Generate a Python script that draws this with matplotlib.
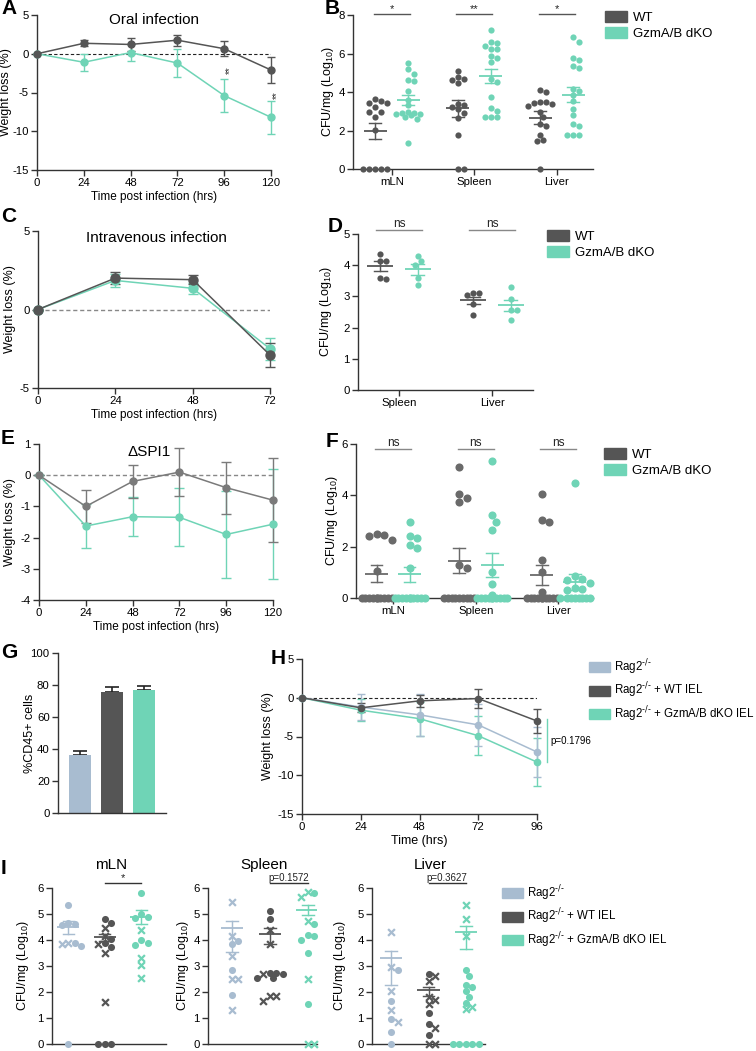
import matplotlib
matplotlib.use('Agg')
import matplotlib.pyplot as plt
from matplotlib.patches import Patch
import numpy as np

plt.rcParams['font.family'] = ['Liberation Sans', 'DejaVu Sans']
plt.rcParams['mathtext.default'] = 'regular'
plt.rcParams['axes.unicode_minus'] = False

DARK = '#555555'
TEAL = '#6fd4b6'
LIGHT = '#a8bcd0'
EGRAY = '#7a7a7a'
FGRAY = '#6a6a6a'

##############################################################################
# data

# A - oral infection weight loss
A_time = [0, 24, 48, 72, 96, 120]
A_wt = [0, 1.35, 1.2, 1.75, 0.65, -2.1]
A_wt_err = [0, 0.4, 0.8, 0.7, 1.0, 1.7]
A_ko = [0, -1.1, 0.15, -1.2, -5.4, -8.2]
A_ko_err = [0, 1.1, 1.1, 1.85, 2.1, 2.15]

organs3 = ['mLN', 'Spleen', 'Liver']
organs2 = ['Spleen', 'Liver']

# B - CFU oral
B_wt = [[3.62, 3.53, 3.45, 3.45, 3.2, 2.98, 2.95, 2.72, 2.05, 0, 0, 0, 0, 0],
        [5.1, 4.8, 4.7, 4.6, 4.45, 3.4, 3.33, 3.2, 3.1, 2.9, 2.67, 1.77, 0, 0],
        [4.1, 4.0, 3.5, 3.5, 3.45, 3.4, 3.25, 2.98, 2.7, 2.35, 2.25, 1.78, 1.5, 1.43, 0]]
B_ko = [[5.5, 5.2, 4.95, 4.6, 4.55, 4.03, 3.6, 3.3, 2.95, 2.9, 2.9, 2.85, 2.85, 2.8, 2.7, 2.62, 1.35],
        [7.2, 6.6, 6.55, 6.4, 6.25, 6.25, 5.85, 5.75, 5.55, 4.7, 4.5, 3.75, 3.15, 3.0, 2.7, 2.7, 2.7],
        [6.85, 6.6, 5.75, 5.65, 5.35, 5.25, 4.15, 4.05, 3.85, 3.55, 3.1, 2.8, 2.35, 2.25, 1.75, 1.75, 1.75]]
B_wt_mean = [1.98, 3.15, 2.67]
B_wt_sem = [0.43, 0.43, 0.32]
B_ko_mean = [3.58, 4.85, 3.87]
B_ko_sem = [0.25, 0.37, 0.4]
B_sig = ['*', '**', '*']

# C - intravenous infection weight loss
C_time = [0, 24, 48, 72]
C_wt = [0, 2.0, 1.9, -2.9]
C_wt_err = [0, 0.4, 0.3, 0.75]
C_ko = [0, 1.85, 1.35, -2.5]
C_ko_err = [0, 0.4, 0.35, 0.7]

# D - CFU intravenous
D_wt = [[4.35, 4.15, 4.12, 3.6, 3.55], [3.1, 3.1, 3.05, 2.75, 2.4]]
D_ko = [[4.3, 4.12, 4.0, 3.6, 3.35], [3.3, 2.92, 2.55, 2.55, 2.25]]
D_wt_mean = [3.98, 2.87]
D_wt_sem = [0.17, 0.12]
D_ko_mean = [3.87, 2.72]
D_ko_sem = [0.18, 0.18]

# E - dSPI1 weight loss
E_time = [0, 24, 48, 72, 96, 120]
E_wt = [0, -1.0, -0.2, 0.1, -0.4, -0.8]
E_wt_err = [0, 0.53, 0.53, 0.78, 0.83, 1.35]
E_ko = [0, -1.63, -1.33, -1.35, -1.9, -1.57]
E_ko_err = [0, 0.7, 0.62, 0.93, 1.4, 1.77]

# F - CFU dSPI1
F_wt = [[2.5, 2.45, 2.4, 2.25, 1.05] + [0] * 10,
        [5.1, 4.05, 3.9, 3.75, 1.28, 1.17] + [0] * 9,
        [4.05, 3.03, 2.97, 1.48, 1.0, 0.25] + [0] * 10]
F_ko = [[2.97, 2.4, 2.35, 2.05, 1.95, 1.15] + [0] * 10,
        [5.34, 3.23, 2.97, 2.65, 1.02, 0.54, 0.12] + [0] * 10,
        [4.49, 0.85, 0.75, 0.7, 0.6, 0.4, 0.35, 0.3] + [0] * 8]
F_wt_mean = [0.95, 1.45, 0.9]
F_wt_sem = [0.32, 0.48, 0.38]
F_ko_mean = [0.92, 1.3, 0.63]
F_ko_sem = [0.3, 0.47, 0.3]

# G - %CD45+ cells
G_vals = [36.5, 75.5, 77.0]
G_err = [2.0, 3.0, 2.5]

# H - Rag2 weight loss
H_time = [0, 24, 48, 72, 96]
H_light = [0, -1.2, -2.2, -3.5, -7.0]
H_light_err = [0, 1.7, 2.7, 2.7, 3.2]
H_dark = [0, -1.3, -0.4, -0.1, -3.0]
H_dark_err = [0, 0.6, 0.8, 1.2, 1.6]
H_teal = [0, -1.6, -2.7, -4.9, -8.3]
H_teal_err = [0, 1.4, 2.2, 2.5, 3.1]

# I - CFU Rag2 (circles / crosses per group: Rag2, +WT IEL, +GzmA/B dKO IEL)
I_circ = {'mLN': [[5.35, 4.66, 4.6, 4.58, 3.88, 3.76, 0],
                  [4.8, 4.65, 4.05, 3.9, 3.75, 0, 0, 0],
                  [5.8, 5.0, 4.9, 4.85, 4.0, 3.9, 3.8]],
          'Spleen': [[3.95, 3.85, 2.85, 1.9],
                     [5.1, 4.8, 2.75, 2.75, 2.7, 2.55, 2.55],
                     [5.8, 4.6, 4.2, 4.15, 4.0, 3.5, 1.55]],
          'Liver': [[2.85, 1.65, 0.95, 0.48, 0],
                    [2.69, 1.2, 0.76, 0.36],
                    [2.86, 2.63, 2.28, 2.18, 2.03, 1.8, 1.59, 0, 0, 0, 0, 0]]}
I_cross = {'mLN': [[3.9, 3.85],
                   [4.45, 4.15, 3.85, 3.5, 1.6],
                   [4.4, 3.3, 3.05, 2.55]],
           'Spleen': [[5.45, 4.15, 3.4, 2.5, 2.5, 1.3],
                      [4.4, 3.85, 2.7, 1.85, 1.85, 1.65],
                      [5.85, 5.65, 4.75, 2.5, 0, 0]],
           'Liver': [[4.3, 2.95, 2.03, 1.3, 0.85],
                     [2.63, 2.41, 1.8, 1.71, 1.55, 0.61, 0, 0],
                     [5.36, 4.8, 4.16, 1.43, 1.33]]}
I_mean = {'mLN': [4.5, 4.1, 4.9], 'Spleen': [4.47, 4.25, 5.15], 'Liver': [3.3, 2.06, 4.29]}
I_err_lo = {'mLN': [0.27, 0.13, 0.3], 'Spleen': [0.92, 0.4, 0.2], 'Liver': [1.02, 0.22, 0.64]}
I_err_hi = {'mLN': [0.22, 0.13, 0.25], 'Spleen': [0.25, 0.2, 0.2], 'Liver': [0.28, 0.12, 0.25]}
I_sig = {'mLN': '*', 'Spleen': 'p=0.1572', 'Liver': 'p=0.3627'}

rag_labels = [r'Rag2$^{\text{-/-}}$', r'Rag2$^{\text{-/-}}$ + WT IEL', r'Rag2$^{\text{-/-}}$ + GzmA/B dKO IEL']
rag_colors = [LIGHT, DARK, TEAL]

##############################################################################

W, H = 756, 1051
fig = plt.figure(figsize=(W / 100, H / 100), dpi=100)


def box(l, t, r, b):
    return fig.add_axes([l / W, 1 - b / H, (r - l) / W, (b - t) / H])


def fpos(x, y):
    return x / W, 1 - y / H


def style(ax):
    for s in ['top', 'right']:
        ax.spines[s].set_visible(False)
    for s in ['left', 'bottom']:
        ax.spines[s].set_linewidth(1.0)
        ax.spines[s].set_color('#333333')
    ax.tick_params(length=4, width=1, labelsize=8.2, color='#333333', pad=2)


def ylabel_at(ax, text, xpx):
    # centre the (rotated) y label on a pixel column; its anchor is the right edge
    pos = ax.get_position()
    x0, w = pos.x0 * W, pos.width * W
    ax.set_ylabel(text, fontsize=9)
    ax.yaxis.set_label_coords((xpx + 6 - x0) / w, 0.5)


def swarm_x(ax, xc, vals, d_px, max_off):
    vals = np.asarray(vals, float)
    tr = ax.transData
    pts = tr.transform(np.column_stack([np.full(len(vals), xc), vals]))
    cx = pts[0, 0]
    ys = pts[:, 1]
    placed = []
    offs = np.zeros(len(vals))
    cands = [0.0]
    k = 1
    while k * d_px * 0.5 <= max_off:
        cands += [k * d_px * 0.5, -k * d_px * 0.5]
        k += 1
    for i in np.argsort(-ys):
        y = ys[i]
        best, best_d = None, -1
        for off in cands:
            dmin = min([np.hypot(off - px, y - py) for px, py in placed] + [1e9])
            if dmin >= d_px * 0.95:
                best = off
                break
            if dmin > best_d:
                best_d, best_alt = dmin, off
        if best is None:
            best = best_alt
        placed.append((best, y))
        offs[i] = best
    return tr.inverted().transform(np.column_stack([cx + offs, ys]))[:, 0]


def mean_sem(ax, x, m, lo, hi, half, cap, color, lw=1.3):
    ax.plot([x - half, x + half], [m, m], color=color, lw=lw, zorder=5, solid_capstyle='butt')
    ax.plot([x, x], [m - lo, m + hi], color=color, lw=lw * 0.8, zorder=5)
    ax.plot([x - cap, x + cap], [m + hi, m + hi], color=color, lw=lw * 0.8, zorder=5)
    ax.plot([x - cap, x + cap], [m - lo, m - lo], color=color, lw=lw * 0.8, zorder=5)


def sig_bar(ax, x1, x2, y, text, color='#333333', fs=8, lw=1.0):
    ax.plot([x1, x2], [y, y], color=color, lw=lw, clip_on=False)
    ax.text((x1 + x2) / 2, y, text, ha='center', va='bottom', fontsize=fs, color='#222222')


def letter(x, y, s):
    fig.text(*fpos(x, y), s, fontsize=15, fontweight='bold', ha='left', va='center')


def two_legend(x, y):
    fig.legend(handles=[Patch(color=DARK, label='WT'), Patch(color=TEAL, label='GzmA/B dKO')],
               loc='upper left', bbox_to_anchor=fpos(x, y), frameon=False, fontsize=9.5,
               handlelength=1.7, handleheight=0.9, handletextpad=0.45, labelspacing=0.2,
               borderpad=0, borderaxespad=0)


def three_legend(x, y):
    fig.legend(handles=[Patch(color=c, label=l) for c, l in zip(rag_colors, rag_labels)],
               loc='upper left', bbox_to_anchor=fpos(x, y), frameon=False, fontsize=8.3,
               handlelength=1.8, handleheight=0.95, handletextpad=0.35, labelspacing=0.35,
               borderpad=0, borderaxespad=0)


def weight_lines(ax, t, series, ms=5, capsize=3):
    for y, e, c in series:
        ax.errorbar(t, y, yerr=e, color=c, marker='o', ms=ms, lw=1.1, capsize=capsize,
                    elinewidth=1.0, capthick=1.0, clip_on=False, zorder=4)


def cfu_panel(ax, n, wt, ko, wt_m, wt_s, ko_m, ko_s, wt_color, d_px, ms):
    for i in range(n):
        xs = swarm_x(ax, i - 0.2, wt[i], d_px, 16)
        ax.scatter(xs, wt[i], s=ms, color=wt_color, lw=0, clip_on=False, zorder=3)
        xs = swarm_x(ax, i + 0.2, ko[i], d_px, 16)
        ax.scatter(xs, ko[i], s=ms, color=TEAL, lw=0, clip_on=False, zorder=3)
        mean_sem(ax, i - 0.2, wt_m[i], wt_s[i], wt_s[i], 0.14, 0.07, wt_color)
        mean_sem(ax, i + 0.2, ko_m[i], ko_s[i], ko_s[i], 0.14, 0.07, TEAL)


##############################################################################
# A
ax = box(37, 15, 271, 170)
style(ax)
ax.set_xlim(0, 120)
ax.set_ylim(-15, 5)
ax.set_xticks(A_time)
ax.set_yticks([5, 0, -5, -10, -15])
ax.axhline(0, color='#222222', lw=0.8, ls=(0, (3, 2)), zorder=1)
weight_lines(ax, A_time, [(A_ko, A_ko_err, TEAL), (A_wt, A_wt_err, DARK)])
ax.set_xlabel('Time post infection (hrs)', fontsize=8.5, labelpad=2)
ylabel_at(ax, 'Weight loss (%)', 6.5)
ax.text(0.5, 0.965, 'Oral infection', transform=ax.transAxes, ha='center', va='center', fontsize=11)
ax.text(99, -2.1, '**', rotation=90, ha='center', va='center', fontsize=7, color='#333333')
ax.text(123, -5.3, '**', rotation=90, ha='center', va='center', fontsize=7, color='#333333')
letter(1, 9, 'A')

# B
ax = box(353, 15, 593, 169)
style(ax)
ax.set_ylim(0, 8)
ax.set_xlim(-0.47, 2.44)
ax.set_yticks([0, 2, 4, 6, 8])
ax.set_xticks(range(3))
ax.set_xticklabels(organs3)
ylabel_at(ax, 'CFU/mg (Log$_{10}$)', 330)
cfu_panel(ax, 3, B_wt, B_ko, B_wt_mean, B_wt_sem, B_ko_mean, B_ko_sem, DARK, 6.0, 20)
for i in range(3):
    sig_bar(ax, i - 0.22, i + 0.22, 8.07, B_sig[i], color='#555555', fs=8)
two_legend(605, 11)
letter(325, 9, 'B')

# C
ax = box(38, 231, 270, 388)
style(ax)
ax.set_xlim(0, 72)
ax.set_ylim(-5, 5)
ax.set_xticks(C_time)
ax.set_yticks([-5, 0, 5])
ax.axhline(0, color='#888888', lw=1.0, ls=(0, (3, 2)), zorder=1)
weight_lines(ax, C_time, [(C_ko, C_ko_err, TEAL), (C_wt, C_wt_err, DARK)], ms=6.5, capsize=3.5)
ax.set_xlabel('Time post infection (hrs)', fontsize=8.5, labelpad=2)
ylabel_at(ax, 'Weight loss (%)', 10)
ax.text(0.51, 0.955, 'Intravenous infection', transform=ax.transAxes, ha='center', va='center', fontsize=11)
letter(1, 217, 'C')

# D
ax = box(358, 234, 533, 390)
style(ax)
ax.set_ylim(0, 5)
ax.set_xlim(-0.44, 1.44)
ax.set_xticks(range(2))
ax.set_xticklabels(organs2)
ylabel_at(ax, 'CFU/mg (Log$_{10}$)', 328)
cfu_panel(ax, 2, D_wt, D_ko, D_wt_mean, D_wt_sem, D_ko_mean, D_ko_sem, DARK, 6.0, 20)
for i in range(2):
    sig_bar(ax, i - 0.25, i + 0.25, 5.12, 'ns', color='#888888', fs=8.5)
two_legend(547, 230)
letter(328, 226, 'D')

# E
ax = box(39, 444, 273, 600)
style(ax)
ax.set_xlim(0, 120)
ax.set_ylim(-4, 1)
ax.set_xticks(E_time)
ax.set_yticks([1, 0, -1, -2, -3, -4])
ax.axhline(0, color='#888888', lw=1.0, ls=(0, (3, 2)), zorder=1)
weight_lines(ax, E_time, [(E_ko, E_ko_err, TEAL), (E_wt, E_wt_err, EGRAY)], ms=5, capsize=3.5)
ax.set_xlabel('Time post infection (hrs)', fontsize=8.5, labelpad=2)
ylabel_at(ax, 'Weight loss (%)', 10)
ax.text(0.47, 0.95, '\u0394SPI1', transform=ax.transAxes, ha='center', va='center', fontsize=11)
letter(1, 438, 'E')

# F
ax = box(356, 444, 593, 598)
style(ax)
ax.set_ylim(0, 6)
ax.set_xlim(-0.45, 2.42)
ax.set_yticks([0, 2, 4, 6])
ax.set_xticks(range(3))
ax.set_xticklabels(organs3)
ylabel_at(ax, 'CFU/mg (Log$_{10}$)', 334)
cfu_panel(ax, 3, F_wt, F_ko, F_wt_mean, F_wt_sem, F_ko_mean, F_ko_sem, FGRAY, 7.5, 34)
for i in range(3):
    sig_bar(ax, i - 0.22, i + 0.22, 5.8, 'ns', color='#888888', fs=8.5)
two_legend(604, 448)
letter(326, 441, 'F')

# G
ax = box(58, 653, 166, 813)
style(ax)
ax.set_ylim(0, 100)
ax.set_xlim(-0.69, 2.69)
ax.set_yticks(range(0, 101, 20))
ax.set_xticks([])
ax.bar(range(3), G_vals, width=0.69, color=rag_colors, zorder=2)
ax.errorbar(range(3), G_vals, yerr=[[0, 0, 0], G_err], fmt='none', ecolor='#222222',
            elinewidth=1.2, capsize=5, capthick=1.2, zorder=1)
ylabel_at(ax, '%CD45+ cells', 30)
letter(1, 653, 'G')

# H
ax = box(302, 659, 537, 814)
style(ax)
ax.set_xlim(0, 96)
ax.set_ylim(-15, 5)
ax.set_xticks(H_time)
ax.set_yticks([5, 0, -5, -10, -15])
ax.axhline(0, color='#222222', lw=0.8, ls=(0, (3, 2)), zorder=1)
weight_lines(ax, H_time, [(H_teal, H_teal_err, TEAL), (H_light, H_light_err, LIGHT),
                          (H_dark, H_dark_err, DARK)], ms=4.5, capsize=3)
ax.plot([100.2, 100.2], [-2.8, -8.3], color=TEAL, lw=1.0, clip_on=False)
ax.text(101.5, -5.6, 'p=0.1796', fontsize=7, ha='left', va='center')
ax.set_xlabel('Time (hrs)', fontsize=9, labelpad=2)
ylabel_at(ax, 'Weight loss (%)', 268)
three_legend(589, 657)
letter(271, 659, 'H')

# I
I_boxes = {'mLN': (52, 888, 166, 1044, (-0.44, 2.68), 25),
           'Spleen': (208, 888, 317, 1044, (-0.63, 2.24), 185),
           'Liver': (372, 888, 485, 1044, (-0.51, 2.51), 342)}
for organ in organs3:
    l, t, r, b, xl, ylx = I_boxes[organ]
    ax = box(l, t, r, b)
    style(ax)
    ax.set_ylim(0, 6)
    ax.set_xlim(*xl)
    ax.set_yticks(range(7))
    ax.set_xticks([])
    ylabel_at(ax, 'CFU/mg (Log$_{10}$)', ylx)
    for g in range(3):
        c = rag_colors[g]
        allv = I_circ[organ][g] + I_cross[organ][g]
        xs = swarm_x(ax, g, allv, 6.5, 13)
        nc = len(I_circ[organ][g])
        ax.scatter(xs[:nc], allv[:nc], s=26, color=c, lw=0, clip_on=False, zorder=3)
        ax.scatter(xs[nc:], allv[nc:], s=24, color=c, marker='x', lw=1.6, clip_on=False, zorder=3)
        mean_sem(ax, g, I_mean[organ][g], I_err_lo[organ][g], I_err_hi[organ][g], 0.3, 0.15, c)
    sig_bar(ax, 1, 2, 6.2, I_sig[organ], color='#333333', fs=7 if organ != 'mLN' else 8)
    fig.text(*fpos((l + r) / 2 + 2, 865), organ, ha='center', va='center', fontsize=11)
three_legend(502, 883)
letter(1, 868, 'I')

fig.savefig('out.png', dpi=100)
